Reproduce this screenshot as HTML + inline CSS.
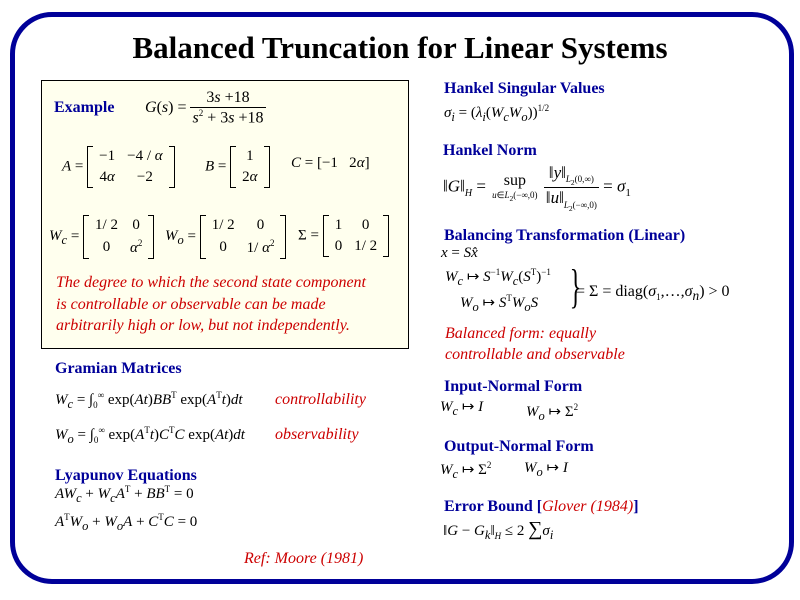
<!DOCTYPE html>
<html><head><meta charset="utf-8"><style>
body{margin:0;width:800px;height:600px;background:#fff;position:relative;overflow:hidden;font-family:"Liberation Serif",serif;}
.a{position:absolute;white-space:nowrap;}
.h{color:#000099;font-weight:bold;font-size:16px;}
.m{font-size:15px;color:#000;}
.i{font-style:italic;}
.r{color:#cc0000;font-style:italic;font-size:16px;}
.mat{display:inline-block;vertical-align:middle;border-left:1.5px solid #000;border-right:1.5px solid #000;padding:0 5px;position:relative;}
.mat:before,.mat:after{content:"";position:absolute;top:0;bottom:0;width:5px;border-top:1.5px solid #000;border-bottom:1.5px solid #000;}
.mat:before{left:0}.mat:after{right:0}
.mat table{border-collapse:collapse;font-size:15px}
.mat td{padding:2px 6px;text-align:center}
.fr{display:inline-block;vertical-align:middle;text-align:center}
.fr span{display:block;padding:0 2px}
.fr .n{border-bottom:1px solid #000}
</style></head><body>
<div class="a" style="left:10px;top:12px;width:774px;height:562px;border:5px solid #000099;border-radius:42px;"></div>
<div class="a" style="left:0;width:800px;text-align:center;top:30px;font-size:31px;font-weight:bold;">Balanced Truncation for Linear Systems</div>
<div class="a" style="left:41px;top:80px;width:366px;height:267px;background:#ffffee;border:1px solid #000;"></div>

<div class="a h" style="left:54px;top:99px;">Example</div>
<div class="a m" style="left:145px;top:89px;font-size:16px"><span class="i">G</span>(<span class="i">s</span>) = <div class="fr"><span class="n">3<i>s</i> +18</span><span><i>s</i><sup style="font-size:9px">2</sup> + 3<i>s</i> +18</span></div></div>

<div class="a m" style="left:62px;top:146px;"><i>A</i> = <div class="mat"><table><tr><td>−1</td><td>−4 / <i>α</i></td></tr><tr><td>4<i>α</i></td><td>−2</td></tr></table></div></div>
<div class="a m" style="left:205px;top:146px;"><i>B</i> = <div class="mat"><table><tr><td>1</td></tr><tr><td>2<i>α</i></td></tr></table></div></div>
<div class="a m" style="left:291px;top:155px;"><i>C</i> = [−1 &nbsp; 2<i>α</i>]</div>

<div class="a m" style="left:49px;top:215px;"><i>W<sub>c</sub></i> = <div class="mat"><table><tr><td>1/ 2</td><td>0</td></tr><tr><td>0</td><td><i>α</i><sup style="font-size:9px">2</sup></td></tr></table></div></div>
<div class="a m" style="left:165px;top:215px;"><i>W<sub>o</sub></i> = <div class="mat"><table><tr><td>1/ 2</td><td>0</td></tr><tr><td>0</td><td>1/ <i>α</i><sup style="font-size:9px">2</sup></td></tr></table></div></div>
<div class="a m" style="left:298px;top:215px;">Σ = <div class="mat"><table><tr><td>1</td><td>0</td></tr><tr><td>0</td><td>1/ 2</td></tr></table></div></div>

<div class="a r" style="left:56px;top:272px;line-height:21.5px;">The degree to which the second state component<br>is controllable or observable can be made<br>arbitrarily high or low, but not independently.</div>

<div class="a h" style="left:55px;top:360px;">Gramian Matrices</div>
<div class="a m" style="left:55px;top:390px;"><i>W<sub>c</sub></i> = ∫<sub style="font-size:9px">0</sub><sup style="font-size:9px">∞</sup> exp(<i>At</i>)<i>BB</i><sup style="font-size:9px">T</sup> exp(<i>A</i><sup style="font-size:9px">T</sup><i>t</i>)<i>dt</i></div>
<div class="a r" style="left:275px;top:391px;">controllability</div>
<div class="a m" style="left:55px;top:425px;"><i>W<sub>o</sub></i> = ∫<sub style="font-size:9px">0</sub><sup style="font-size:9px">∞</sup> exp(<i>A</i><sup style="font-size:9px">T</sup><i>t</i>)<i>C</i><sup style="font-size:9px">T</sup><i>C</i> exp(<i>At</i>)<i>dt</i></div>
<div class="a r" style="left:275px;top:426px;">observability</div>

<div class="a h" style="left:55px;top:467px;">Lyapunov Equations</div>
<div class="a m" style="left:55px;top:484px;"><i>AW<sub>c</sub></i> + <i>W<sub>c</sub>A</i><sup style="font-size:9px">T</sup> + <i>BB</i><sup style="font-size:9px">T</sup> = 0</div>
<div class="a m" style="left:55px;top:512px;"><i>A</i><sup style="font-size:9px">T</sup><i>W<sub>o</sub></i> + <i>W<sub>o</sub>A</i> + <i>C</i><sup style="font-size:9px">T</sup><i>C</i> = 0</div>
<div class="a r" style="left:244px;top:550px;">Ref: Moore (1981)</div>

<div class="a h" style="left:444px;top:80px;">Hankel Singular Values</div>
<div class="a m" style="left:444px;top:103px;"><i>σ<sub>i</sub></i> = (<i>λ<sub>i</sub></i>(<i>W<sub>c</sub>W<sub>o</sub></i>))<sup style="font-size:9px">1/2</sup></div>
<div class="a h" style="left:443px;top:142px;">Hankel Norm</div>
<div class="a m" style="left:443px;top:163px;font-size:17px">‖<i>G</i>‖<sub style="font-size:10px"><i>H</i></sub> = <div class="fr" style="font-size:16px">sup<br><span style="font-size:9px"><i>u</i>∈<i>L</i><sub>2</sub>(−∞,0)</span></div> <div class="fr"><span class="n">‖<i>y</i>‖<sub style="font-size:9px"><i>L</i><sub>2</sub>(0,∞)</sub></span><span>‖<i>u</i>‖<sub style="font-size:9px"><i>L</i><sub>2</sub>(−∞,0)</sub></span></div> = <i>σ</i><sub style="font-size:11px">1</sub></div>

<div class="a h" style="left:444px;top:227px;">Balancing Transformation (Linear)</div>
<div class="a m" style="left:441px;top:245px;"><i>x</i> = <i>S</i><i>x̂</i></div>
<div class="a m" style="left:445px;top:267px;"><i>W<sub>c</sub></i> ↦ <i>S</i><sup style="font-size:9px">−1</sup><i>W<sub>c</sub></i>(<i>S</i><sup style="font-size:9px">T</sup>)<sup style="font-size:9px">−1</sup></div>
<div class="a m" style="left:460px;top:293px;"><i>W<sub>o</sub></i> ↦ <i>S</i><sup style="font-size:9px">T</sup><i>W<sub>o</sub>S</i></div>
<div class="a" style="left:564px;top:263px;font-size:48px;line-height:48px;transform:scaleX(0.5);">}</div>
<div class="a m" style="left:576px;top:283px;font-size:16px">= Σ = diag(<i>σ</i><sub style="font-size:9px">1</sub>,…,<i>σ<sub>n</sub></i>) &gt; 0</div>
<div class="a r" style="left:445px;top:323px;line-height:21px;">Balanced form: equally<br>controllable and observable</div>

<div class="a h" style="left:444px;top:378px;">Input-Normal Form</div>
<div class="a m" style="left:440px;top:397px;"><i>W<sub>c</sub></i> ↦ <i>I</i></div>
<div class="a m" style="left:526px;top:402px;"><i>W<sub>o</sub></i> ↦ Σ<sup style="font-size:9px">2</sup></div>
<div class="a h" style="left:444px;top:438px;">Output-Normal Form</div>
<div class="a m" style="left:440px;top:460px;"><i>W<sub>c</sub></i> ↦ Σ<sup style="font-size:9px">2</sup></div>
<div class="a m" style="left:524px;top:458px;"><i>W<sub>o</sub></i> ↦ <i>I</i></div>
<div class="a h" style="left:444px;top:498px;">Error Bound [<span style="color:#cc0000;font-weight:normal;font-style:italic">Glover (1984)</span>]</div>
<div class="a m" style="left:443px;top:518px;">‖<i>G</i> − <i>G<sub>k</sub></i>‖<sub style="font-size:9px"><i>H</i></sub> ≤ 2 <span style="font-size:20px">∑</span><i>σ<sub>i</sub></i></div>
</body></html>
